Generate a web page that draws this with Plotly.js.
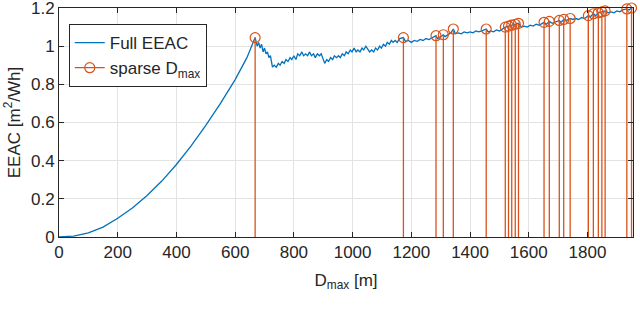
<!DOCTYPE html>
<html>
<head>
<meta charset="utf-8">
<script src="https://cdn.plot.ly/plotly-3.0.1.min.js"></script>
<style>
  html, body { margin: 0; padding: 0; background: #fff; }
  #plot { width: 640px; height: 325px; }
</style>
</head>
<body>
<div id="plot"></div>
<script>
// full EEAC curve
var dmax = [0, 50, 100, 150, 200, 250, 300, 350, 400, 450, 500, 550, 600, 640, 668,
  675, 680, 685, 690, 695, 700, 705, 710, 715, 720, 727, 733, 740, 747, 753, 760, 767, 773, 780, 787,
  793, 800, 807, 813, 820, 827, 833, 840, 847, 853, 860, 867, 873, 880, 887, 893, 900, 905, 912, 918,
  925, 932, 938, 945, 952, 958, 965, 972, 978, 985, 992, 998, 1005, 1012, 1018, 1025, 1032, 1038, 1045,
  1052, 1058, 1065, 1072, 1078, 1085, 1092, 1098, 1105, 1112, 1118, 1125, 1132, 1138, 1145, 1152, 1160, 1173,
  1180, 1190, 1200, 1210, 1220, 1230, 1240, 1250, 1260, 1270, 1284, 1290, 1300, 1309, 1315, 1325, 1335, 1343,
  1350, 1360, 1370, 1380, 1390, 1400, 1410, 1420, 1430, 1440, 1455, 1462, 1470, 1480, 1490, 1500, 1510, 1520,
  1531, 1542, 1554, 1565, 1575, 1585, 1595, 1605, 1615, 1625, 1635, 1645, 1652, 1660, 1670, 1680, 1690, 1704,
  1710, 1719, 1730, 1741, 1750, 1760, 1770, 1780, 1790, 1803, 1810, 1820, 1828, 1837, 1849, 1860, 1870, 1880,
  1890, 1900, 1910, 1920, 1934, 1942, 1950];
var eeac = [0, 0.005, 0.022, 0.052, 0.098, 0.152, 0.218, 0.293, 0.38, 0.478, 0.585, 0.70, 0.825, 0.94, 1.045,
  1.00, 1.02, 0.99, 1.01, 0.97, 0.99, 0.96, 0.97, 0.94, 0.95, 0.89, 0.90, 0.89, 0.91, 0.90, 0.92, 0.91, 0.93, 0.92, 0.94,
  0.93, 0.95, 0.93, 0.96, 0.95, 0.97, 0.95, 0.96, 0.95, 0.97, 0.95, 0.96, 0.94, 0.96, 0.95, 0.96, 0.93, 0.91, 0.93, 0.92,
  0.94, 0.93, 0.95, 0.94, 0.95, 0.94, 0.96, 0.95, 0.97, 0.96, 0.98, 0.97, 0.99, 0.97, 0.98, 0.97, 0.99, 0.98, 1.00,
  0.98, 0.97, 0.98, 0.97, 0.99, 0.98, 1.00, 0.99, 1.01, 1.00, 1.02, 1.01, 1.03, 1.02, 1.03, 1.02, 1.04, 1.045,
  1.025, 1.03, 1.02, 1.03, 1.025, 1.035, 1.03, 1.04, 1.035, 1.045, 1.055, 1.04, 1.05, 1.06, 1.05, 1.06, 1.07, 1.09,
  1.065, 1.07, 1.065, 1.075, 1.07, 1.075, 1.07, 1.08, 1.075, 1.08, 1.09, 1.075, 1.08, 1.075, 1.085, 1.08, 1.09, 1.10,
  1.105, 1.11, 1.115, 1.12, 1.10, 1.105, 1.10, 1.11, 1.105, 1.115, 1.11, 1.12, 1.125, 1.115, 1.13, 1.12, 1.125, 1.135,
  1.125, 1.14, 1.135, 1.145, 1.14, 1.145, 1.14, 1.15, 1.145, 1.16, 1.155, 1.17, 1.16, 1.175, 1.18, 1.185, 1.175, 1.18,
  1.175, 1.185, 1.18, 1.19, 1.195, 1.19, 1.20];

// sparse Dmax samples
var sparseD = [668, 1173, 1284, 1309, 1343, 1455, 1520, 1531, 1542, 1554, 1565, 1652, 1670, 1704, 1719, 1741,
  1803, 1820, 1837, 1849, 1860, 1934, 1950];
var sparseE = [1.045, 1.045, 1.055, 1.06, 1.09, 1.09, 1.10, 1.105, 1.11, 1.115, 1.12, 1.125, 1.13, 1.135, 1.14, 1.145,
  1.16, 1.17, 1.175, 1.18, 1.185, 1.195, 1.20];

var yTicks = [0, 0.2, 0.4, 0.6, 0.8, 1, 1.2];
var yTickText = ['0', '0.2', '0.4', '0.6', '0.8', '1', '1.2'];

var blue = '#0072BD';
var orange = '#D95319';
var axisCol = '#262626';
var fnt = 'Liberation Sans, Arial, sans-serif';

// stems: vertical segments from 0 up to each sample
var stemX = [], stemY = [];
sparseD.forEach(function (d, i) {
  stemX.push(d, d, null);
  stemY.push(0, sparseE[i], null);
});

var traces = [
  {
    x: dmax, y: eeac, name: 'Full EEAC', mode: 'lines', type: 'scatter',
    line: {color: blue, width: 1.3}
  },
  {
    x: stemX, y: stemY, mode: 'lines', type: 'scatter', showlegend: false,
    line: {color: orange, width: 1.3}, hoverinfo: 'skip'
  },
  {
    x: sparseD, y: sparseE, mode: 'markers', type: 'scatter', showlegend: false, cliponaxis: false,
    marker: {symbol: 'circle-open', size: 10, color: orange, line: {width: 1.2, color: orange}}
  },
  {
    x: [null], y: [null], name: 'sparse D<sub>max</sub>', mode: 'lines+markers', type: 'scatter',
    line: {color: orange, width: 1.3},
    marker: {symbol: 'circle-open', size: 10, color: orange, line: {width: 1.2, color: orange}}
  }
];

var layout = {
  width: 640, height: 325,
  margin: {l: 59, r: 7, t: 8, b: 88},
  paper_bgcolor: '#fff', plot_bgcolor: '#fff',
  font: {family: fnt, size: 17, color: axisCol},
  showlegend: true,
  legend: {
    x: 0.017, y: 0.93, xanchor: 'left', yanchor: 'top',
    bgcolor: '#fff', bordercolor: axisCol, borderwidth: 1,
    font: {family: fnt, size: 17, color: axisCol}, tracegroupgap: 0
  },
  xaxis: {
    range: [0, 1955], dtick: 200, tick0: 0,
    showline: true, linecolor: axisCol, linewidth: 1, mirror: 'ticks',
    ticks: 'inside', ticklen: 5, tickcolor: axisCol,
    showgrid: true, gridcolor: '#e3e3e3', zeroline: false,
    tickfont: {family: fnt, size: 17, color: axisCol},
    title: {text: 'D<sub>max</sub> [m]', font: {family: fnt, size: 17, color: axisCol}, standoff: 12}
  },
  yaxis: {
    range: [0, 1.2001], tickmode: 'array', tickvals: yTicks, ticktext: yTickText,
    ticklabeloverflow: 'allow',
    showline: true, linecolor: axisCol, linewidth: 1, mirror: 'ticks',
    ticks: 'inside', ticklen: 5, tickcolor: axisCol,
    showgrid: true, gridcolor: '#e3e3e3', zeroline: false,
    tickfont: {family: fnt, size: 17, color: axisCol},
    title: {text: 'EEAC [m<sup>2</sup>/Wh]', font: {family: fnt, size: 17, color: axisCol}, standoff: 6}
  }
};

Plotly.newPlot('plot', traces, layout, {staticPlot: true});
</script>
</body>
</html>
